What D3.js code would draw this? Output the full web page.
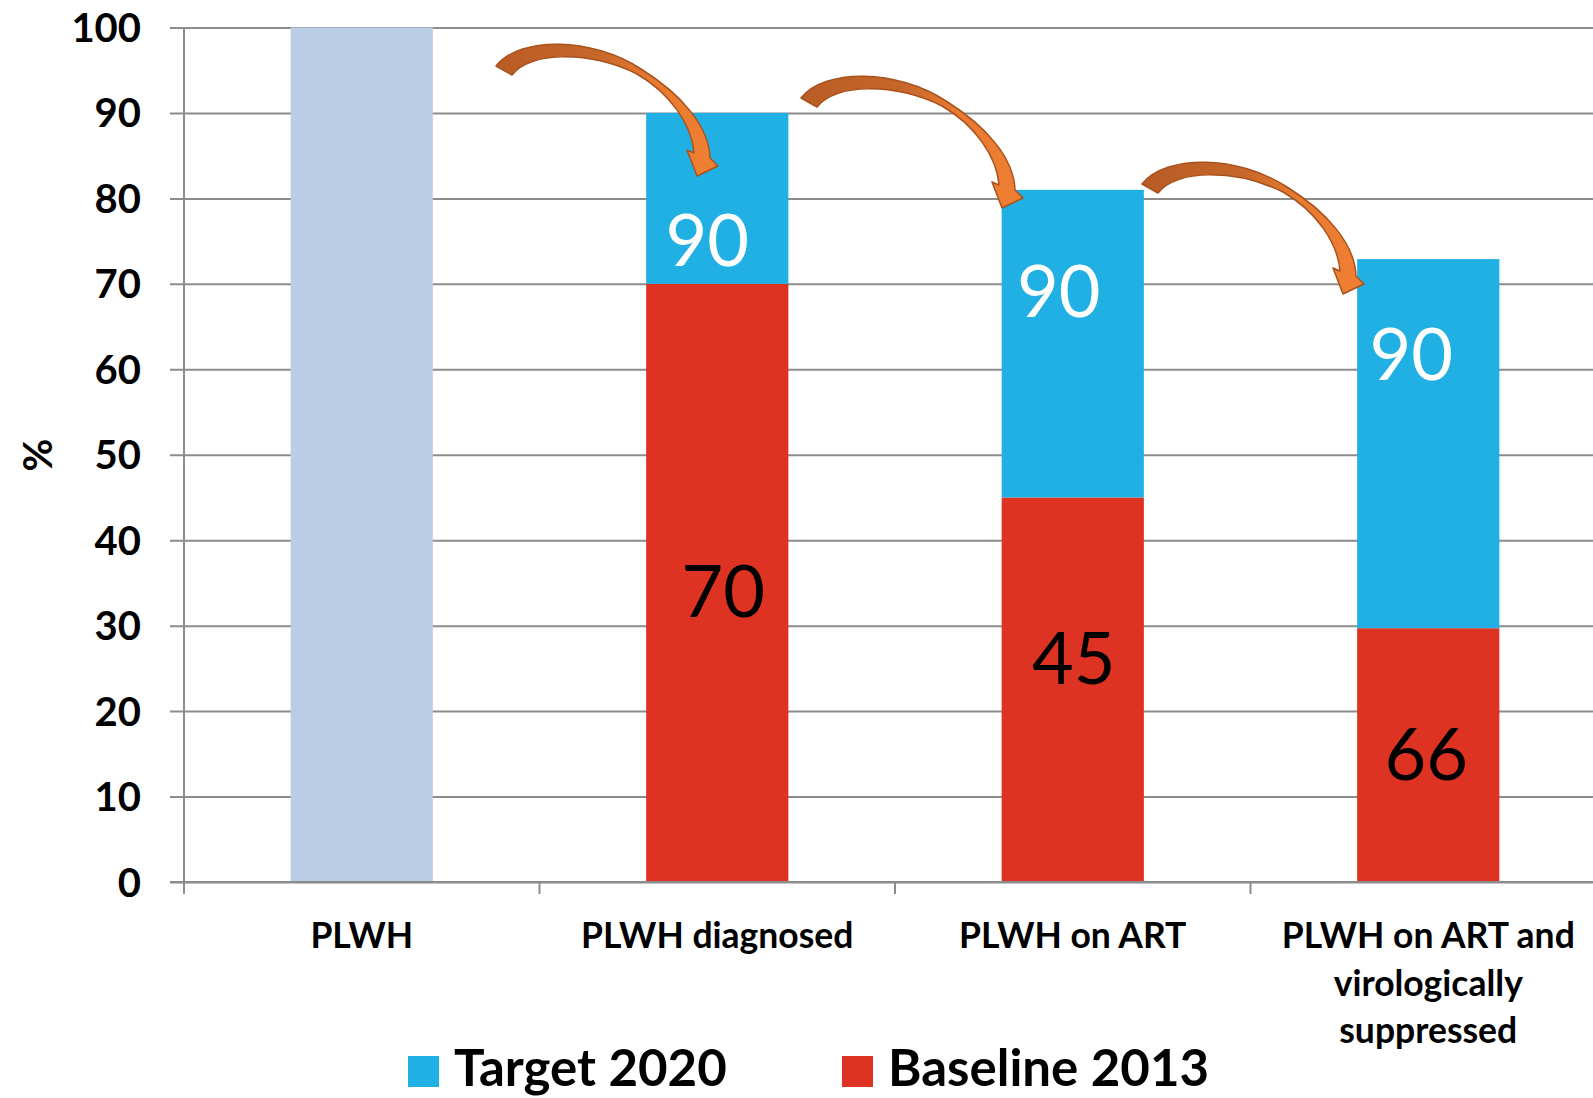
<!DOCTYPE html>
<html>
<head>
<meta charset="utf-8">
<script src="https://cdn.jsdelivr.net/npm/d3@7"></script>
<style>
  html, body { margin: 0; padding: 0; background: #ffffff; }
  svg { display: block; }
  text { font-family: Lato, "Open Sans", "DejaVu Sans", sans-serif; }
</style>
</head>
<body>
<script>
// ---------- data ----------
const categories = ["PLWH", "PLWH diagnosed", "PLWH on ART", "PLWH on ART and virologically suppressed"];
const categoryLines = [["PLWH"], ["PLWH diagnosed"], ["PLWH on ART"], ["PLWH on ART and", "virologically", "suppressed"]];
const allPLWH = [100, null, null, null];
const target2020 = [null, 90, 81, 72.9];
const baseline2013 = [null, 70, 45, 29.7];
const targetLabels = ["", "90", "90", "90"];
const baselineLabels = ["", "70", "45", "66"];
const targetLabelAt = [null, 75.1, 69.2, 61.8];
const baselineLabelAt = [null, 34.0, 26.2, 15.0];
const yTicks = [0, 10, 20, 30, 40, 50, 60, 70, 80, 90, 100];
const legendNames = ["Target 2020", "Baseline 2013"];
const yTitle = "%";

// ---------- layout / style ----------
const W = 1593, H = 1098;
const colors = { all: "#B9CDE5", target: "#21B0E3", baseline: "#DE3222", grid: "#8C8C8C" };
const plot = { left: 184, right: 184 + 4 * 355.5, top: 27.5, bottom: 882 };
const targetLabelDx = [0, -10, -14, -17];
const baselineLabelDx = [0, 6, 1, -2];

const svg = d3.select("body").append("svg").attr("width", W).attr("height", H);
svg.append("rect").attr("width", W).attr("height", H).attr("fill", "#fff");

const x = d3.scaleBand().domain(categories).range([plot.left, plot.right]).paddingInner(0.6).paddingOuter(0.3);
const y = d3.scaleLinear().domain([0, 100]).range([plot.bottom, plot.top]);

// gridlines + y axis
const yAxis = d3.axisLeft(y).tickValues(yTicks).tickSize(-(plot.right - plot.left) - 14).tickPadding(29).tickFormat(d3.format("d"));
const gy = svg.append("g").attr("transform", `translate(${plot.left - 14},0)`).call(yAxis);
gy.select(".domain").remove();
gy.selectAll(".tick line").attr("stroke", colors.grid).attr("stroke-width", 2);
gy.selectAll(".tick text").attr("font-size", 40).attr("font-weight", 700).attr("fill", "#000").attr("dy", "0.35em");

// vertical axis line
svg.append("line").attr("x1", plot.left).attr("x2", plot.left).attr("y1", plot.top).attr("y2", plot.bottom + 12)
  .attr("stroke", colors.grid).attr("stroke-width", 2);

// category tick marks
const boundaries = categories.map(c => x(c) - x.step() * x.paddingOuter());
svg.selectAll("line.ctick").data(boundaries.slice(1)).join("line").attr("class", "ctick")
  .attr("x1", d => d).attr("x2", d => d).attr("y1", plot.bottom).attr("y2", plot.bottom + 12)
  .attr("stroke", colors.grid).attr("stroke-width", 2);

// bars
const bars = svg.append("g");
categories.forEach((c, i) => {
  if (allPLWH[i] != null) {
    bars.append("rect").attr("x", x(c)).attr("width", x.bandwidth())
      .attr("y", y(allPLWH[i])).attr("height", y(0) - y(allPLWH[i])).attr("fill", colors.all);
  }
  if (baseline2013[i] != null) {
    bars.append("rect").attr("x", x(c)).attr("width", x.bandwidth())
      .attr("y", y(baseline2013[i])).attr("height", y(0) - y(baseline2013[i])).attr("fill", colors.baseline);
  }
  if (target2020[i] != null) {
    bars.append("rect").attr("x", x(c)).attr("width", x.bandwidth())
      .attr("y", y(target2020[i])).attr("height", y(baseline2013[i]) - y(target2020[i])).attr("fill", colors.target);
  }
});

// x axis baseline
svg.append("line").attr("x1", plot.left - 14).attr("x2", W).attr("y1", plot.bottom).attr("y2", plot.bottom)
  .attr("stroke", colors.grid).attr("stroke-width", 2);

// value labels
categories.forEach((c, i) => {
  const cx = x(c) + x.bandwidth() / 2;
  if (targetLabels[i]) {
    svg.append("text").attr("x", cx + targetLabelDx[i]).attr("y", y(targetLabelAt[i])).attr("dy", "0.36em")
      .attr("text-anchor", "middle").attr("font-size", 72).attr("fill", "#fff").text(targetLabels[i]);
  }
  if (baselineLabels[i]) {
    svg.append("text").attr("x", cx + baselineLabelDx[i]).attr("y", y(baselineLabelAt[i])).attr("dy", "0.36em")
      .attr("text-anchor", "middle").attr("font-size", 72).attr("fill", "#000").text(baselineLabels[i]);
  }
});

// category labels
categories.forEach((c, i) => {
  const t = svg.append("text").attr("x", x(c) + x.bandwidth() / 2).attr("y", 948)
    .attr("text-anchor", "middle").attr("font-size", 35.5).attr("font-weight", 700).attr("fill", "#000");
  categoryLines[i].forEach((line, k) => {
    t.append("tspan").attr("x", x(c) + x.bandwidth() / 2).attr("y", 948 + k * 47.5).text(line);
  });
});

// y title
svg.append("text").attr("transform", "translate(38,455) rotate(-90)").attr("dy", "0.35em")
  .attr("text-anchor", "middle").attr("font-size", 40).attr("font-weight", 700).attr("fill", "#000").text(yTitle);

// legend
const legend = svg.append("g");
const legendX = [408, 842];
const legendColors = [colors.target, colors.baseline];
legendNames.forEach((n, i) => {
  legend.append("rect").attr("x", legendX[i]).attr("y", 1056).attr("width", 31).attr("height", 31).attr("fill", legendColors[i]);
  legend.append("text").attr("x", legendX[i] + 46).attr("y", 1068).attr("dy", "0.36em")
    .attr("font-size", 51).attr("font-weight", 700).attr("fill", "#000").text(n);
});

// curved arrows (annotation)
const defs = svg.append("defs");
const grad = defs.append("linearGradient").attr("id", "arrowGrad").attr("x1", "0").attr("x2", "1").attr("y1", "0").attr("y2", "0");
grad.append("stop").attr("offset", "0").attr("stop-color", "#B85C25");
grad.append("stop").attr("offset", "0.45").attr("stop-color", "#C6662A");
grad.append("stop").attr("offset", "0.7").attr("stop-color", "#E77A30");
grad.append("stop").attr("offset", "1").attr("stop-color", "#EF7F33");

const arrowPath = "M496,66 C520,36 592,37 641,69 C681,94 709,126 710,158 " +
  "L718,166 L697,176 L687,150 L694,153 " +
  "C692,125 670,93 637,74 C590,51 530,51 512,75 Z";
const arrowOffsets = [[0, 0], [305, 32], [646, 118]];
svg.append("g").selectAll("path").data(arrowOffsets).join("path")
  .attr("d", arrowPath).attr("transform", d => `translate(${d[0]},${d[1]})`)
  .attr("fill", "url(#arrowGrad)").attr("stroke", "#A8521D").attr("stroke-width", 1.5).attr("stroke-linejoin", "round");
</script>
</body>
</html>
